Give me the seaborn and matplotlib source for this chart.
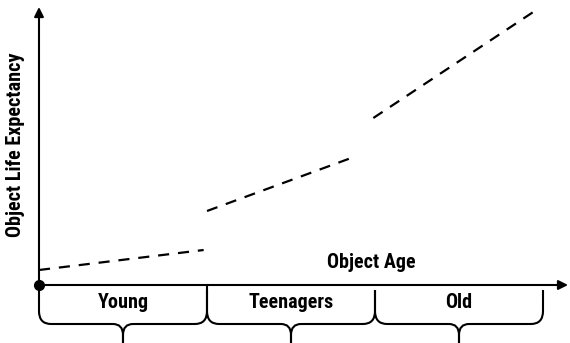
import matplotlib
matplotlib.use("Agg")
import matplotlib.pyplot as plt
from matplotlib.path import Path
from matplotlib.patches import PathPatch
from matplotlib import font_manager
import seaborn as sns
import pandas as pd

# Age stages and the dashed life-expectancy segment for each stage
stages = ["Young", "Teenagers", "Old"]
seg_age_start = [0.0, 1.0, 1.99]
seg_age_end = [0.98, 1.89, 2.96]
seg_exp_start = [0.15, 0.74, 1.67]
seg_exp_end = [0.35, 1.29, 2.75]
stage_bounds = [0.0, 1.0, 2.0, 3.0]

x_label = "Object Age"
y_label = "Object Life Expectancy"

rows = []
for s, a0, a1, e0, e1 in zip(stages, seg_age_start, seg_age_end, seg_exp_start, seg_exp_end):
    rows.append({"stage": s, "age": a0, "expectancy": e0})
    rows.append({"stage": s, "age": a1, "expectancy": e1})
df = pd.DataFrame(rows)

sns.set_theme(style="white")
installed = {f.name for f in font_manager.fontManager.ttflist}
narrow = [f for f in ["Liberation Sans Narrow", "Roboto Condensed", "DejaVu Sans"] if f in installed]
plt.rcParams["font.family"] = narrow + ["DejaVu Sans"]
plt.rcParams["text.color"] = "black"

label_font = dict(fontsize=14.5, fontweight="bold", fontstretch="condensed", color="black")

fig = plt.figure(figsize=(5.7, 3.43), dpi=100)
ax = fig.add_axes([0, 0, 1, 1])
ax.set_xlim(-0.2321, 3.1607)
ax.set_ylim(-0.58, 2.85)
ax.axis("off")

sns.lineplot(
    data=df, x="age", y="expectancy", hue="stage", style="stage",
    palette={s: "black" for s in stages},
    dashes={s: (5, 4) for s in stages},
    linewidth=1.6, legend=False, ax=ax, estimator=None, sort=False,
)

# Axes with arrow heads and the origin dot
arrow = dict(arrowstyle="-|>", lw=1.5, color="black", mutation_scale=14,
             shrinkA=0, shrinkB=0)
ax.annotate("", xy=(3.149, 0), xytext=(0, 0), arrowprops=arrow)
ax.annotate("", xy=(0, 2.78), xytext=(0, 0), arrowprops=arrow)
ax.plot([0], [0], "o", color="black", markersize=7, zorder=5)


# Curly braces under each stage
def brace(x0, x1, top=-0.05, bend=-0.26, base=-0.39, bottom=-0.66):
    xm = (x0 + x1) / 2
    rx = 0.072
    cx, cy = 0.06, 0.11
    for xe, sgn in ((x0, 1), (x1, -1)):
        verts = [
            (xe, top), (xe, bend), (xe, base), (xe + sgn * rx, base),
            (xm - sgn * cx, base), (xm, base), (xm, base - cy), (xm, bottom),
        ]
        codes = [Path.MOVETO, Path.LINETO, Path.CURVE3, Path.CURVE3,
                 Path.LINETO, Path.CURVE3, Path.CURVE3, Path.LINETO]
        ax.add_patch(PathPatch(Path(verts, codes), fill=False, lw=1.5,
                               edgecolor="black", capstyle="butt"))


for s, x0, x1 in zip(stages, stage_bounds[:-1], stage_bounds[1:]):
    brace(x0, x1, top=(0 if x0 == 0 else -0.05))
    ax.text((x0 + x1) / 2, -0.17, s, ha="center", va="center", **label_font)

ax.text(1.98, 0.23, x_label, ha="center", va="center", **label_font)
ax.text(-0.14, 1.40, y_label, ha="center", va="center", rotation=90, **label_font)

fig.savefig("out.png", dpi=100)
